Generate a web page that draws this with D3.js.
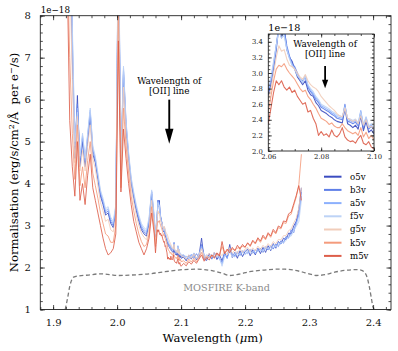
<!DOCTYPE html>
<html>
<head>
<meta charset="utf-8">
<script src="https://cdn.jsdelivr.net/npm/d3@7"></script>
<style>
	html, body { margin: 0; padding: 0; background: #fff; }
	svg { display: block; font-family: "DejaVu Serif", serif; }
</style>
</head>
<body>
<svg id="chart" width="398" height="351"></svg>
<script>
(function (d3) {
	"use strict";

	/***** Data (flux in units of 1e-18) *****/

	// wavelength grid in micron: coarse, fine around [OII], coarse
	var wavelength = [
		1.922,1.926,1.930,1.934,1.938,1.942,1.946,1.950,1.954,1.958,1.962,1.966,1.970,1.974,1.978,1.982,1.986,1.990,1.994,1.998,
		2.002,2.006,2.010,2.014,2.018,2.022,2.026,2.030,2.034,2.038,2.042,2.046,2.050,2.054,2.058,
		2.060,2.061,2.062,2.063,2.064,2.065,2.066,2.067,2.068,2.069,2.070,2.071,2.072,2.073,2.074,2.075,2.076,2.077,2.078,2.079,
		2.080,2.081,2.082,2.083,2.084,2.085,2.086,2.087,2.088,2.089,2.090,2.091,2.092,2.093,2.094,2.095,2.096,2.097,2.098,2.099,2.100,
		2.104,2.108,2.112,2.116,2.120,2.124,2.128,2.132,2.136,2.140,2.144,2.148,2.152,2.156,2.160,2.164,2.168,2.172,2.176,2.180,
		2.184,2.188,2.192,2.196,2.200,2.204,2.208,2.212,2.216,2.220,2.224,2.228,2.232,2.236,2.240,2.244,2.248,2.252,2.256,2.260,
		2.264,2.268,2.272,2.276,2.280,2.284,2.288
	];

	var o5v = [
		10.5,12.0,7.0,4.6,6.1,4.4,5.0,4.4,5.0,5.6,4.7,4.5,4.1,3.7,3.5,3.25,3.3,3.05,2.95,3.3,
		9.5,4.3,6.6,5.3,4.6,4.0,3.65,3.35,3.1,2.9,2.8,2.75,3.05,3.75,3.1,
		2.72,2.85,3.05,3.3,3.6,3.45,3.6,3.3,3.2,3.15,3.05,2.95,2.9,2.85,2.9,2.78,2.72,2.7,2.62,2.58,
		2.52,2.5,2.48,2.45,2.43,2.4,2.38,2.37,2.36,2.55,2.35,2.33,2.3,2.33,2.28,2.45,2.26,2.38,2.24,2.27,2.22,
		2.25,2.16,2.3,2.2,2.34,2.18,2.29,2.7,2.2,2.17,2.33,2.2,2.36,2.19,2.3,2.16,2.36,2.22,2.55,2.24,
		2.36,2.22,2.4,2.26,2.38,2.44,2.28,2.42,2.3,2.46,2.33,2.48,2.36,2.52,2.4,2.57,2.46,2.62,2.56,2.7,
		2.66,2.82,2.8,2.99,3.1,3.4,3.9
	];
	var b3v = [
		10.2,11.5,7.4,4.8,5.9,4.5,5.1,4.5,5.1,5.7,4.8,4.55,4.15,3.75,3.55,3.3,3.35,3.1,3.0,3.4,
		9.8,4.4,6.7,5.4,4.65,4.05,3.7,3.4,3.15,2.95,2.85,2.8,3.1,3.8,3.15,
		2.75,2.9,3.1,3.35,3.6,3.5,3.55,3.35,3.22,3.12,3.08,3.0,2.92,2.9,2.95,2.82,2.76,2.72,2.66,2.62,
		2.56,2.54,2.52,2.5,2.47,2.45,2.42,2.41,2.4,2.6,2.38,2.37,2.35,2.37,2.32,2.5,2.3,2.42,2.28,2.32,2.26,
		2.3,2.2,2.26,2.28,2.22,2.33,2.24,2.55,2.3,2.2,2.27,2.3,2.24,2.34,2.22,2.12,2.33,2.24,2.46,2.32,
		2.28,2.35,2.3,2.4,2.32,2.37,2.43,2.34,2.42,2.38,2.46,2.36,2.47,2.42,2.52,2.44,2.56,2.5,2.64,2.58,
		2.74,2.7,2.9,2.83,3.1,3.28,3.8
	];
	var a5v = [
		9.8,11.0,7.6,4.9,5.8,4.6,5.15,4.55,5.15,5.75,4.85,4.6,4.2,3.8,3.6,3.35,3.4,3.15,3.05,3.45,
		10.0,4.5,6.75,5.45,4.7,4.1,3.75,3.45,3.2,3.0,2.9,2.85,3.15,3.82,3.2,
		2.78,2.92,3.12,3.35,3.58,3.48,3.5,3.32,3.2,3.1,3.06,2.98,2.92,2.88,2.96,2.84,2.78,2.74,2.68,2.64,
		2.58,2.56,2.54,2.52,2.49,2.47,2.44,2.43,2.42,2.58,2.4,2.39,2.37,2.39,2.34,2.52,2.32,2.43,2.3,2.34,2.28,
		2.26,2.27,2.2,2.32,2.25,2.22,2.33,2.5,2.24,2.3,2.26,2.22,2.36,2.27,2.2,2.08,2.32,2.22,2.4,2.3,
		2.25,2.38,2.28,2.36,2.4,2.33,2.39,2.43,2.33,2.45,2.4,2.42,2.5,2.44,2.49,2.55,2.48,2.6,2.56,2.62,
		2.7,2.72,2.8,2.92,3.02,3.25,3.7
	];
	var f5v = [
		9.5,10.5,7.8,5.0,5.7,4.65,5.2,4.6,5.2,5.8,4.9,4.65,4.25,3.85,3.65,3.4,3.45,3.2,3.1,3.5,
		10.2,4.6,6.8,5.5,4.75,4.15,3.8,3.5,3.25,3.05,2.95,2.9,3.2,3.85,3.25,
		2.8,2.95,3.15,3.35,3.55,3.45,3.48,3.3,3.18,3.1,3.05,2.97,2.93,2.88,2.97,2.85,2.8,2.76,2.7,2.66,
		2.6,2.58,2.56,2.54,2.51,2.49,2.46,2.45,2.44,2.56,2.42,2.41,2.39,2.41,2.36,2.5,2.34,2.44,2.32,2.35,2.3,
		2.31,2.22,2.28,2.24,2.35,2.2,2.3,2.45,2.3,2.22,2.28,2.3,2.25,2.32,2.24,2.03,2.26,2.3,2.38,2.25,
		2.34,2.3,2.33,2.38,2.3,2.41,2.35,2.36,2.42,2.37,2.44,2.38,2.45,2.47,2.42,2.52,2.5,2.53,2.6,2.6,
		2.64,2.74,2.75,2.88,2.98,3.1,3.6
	];
	var g5v = [
		9.0,9.0,6.5,4.5,5.6,4.3,4.8,4.3,4.9,5.4,4.6,4.35,3.95,3.55,3.35,3.1,3.15,2.9,2.85,3.2,
		9.0,4.1,6.3,5.1,4.45,3.9,3.55,3.25,3.0,2.82,2.72,2.66,2.95,3.6,3.0,
		2.65,2.8,3.0,3.2,3.35,3.28,3.3,3.18,3.1,3.08,3.05,3.0,2.95,2.92,2.98,2.9,2.85,2.82,2.8,2.76,
		2.7,2.66,2.62,2.58,2.55,2.52,2.48,2.45,2.44,2.55,2.42,2.4,2.38,2.4,2.35,2.45,2.33,2.4,2.3,2.32,2.28,
		2.26,2.2,2.3,2.22,2.32,2.22,2.3,2.45,2.25,2.28,2.33,2.25,2.36,2.27,2.35,2.28,2.4,2.3,2.47,2.34,
		2.42,2.33,2.45,2.36,2.44,2.48,2.38,2.47,2.4,2.51,2.43,2.53,2.46,2.57,2.5,2.62,2.56,2.67,2.66,2.76,
		2.76,2.88,2.92,3.06,3.18,3.42,3.9
	];
	var k5v = [
		9.5,7.0,5.2,4.1,5.4,3.95,4.4,3.9,4.55,5.0,4.25,3.95,3.65,3.3,3.05,2.8,2.75,2.6,2.6,3.0,
		8.2,3.9,5.8,4.9,4.25,3.7,3.35,3.05,2.8,2.62,2.5,2.55,2.8,3.45,2.9,
		2.5,2.7,2.9,3.05,3.1,3.08,3.12,3.05,3.0,2.96,2.92,2.86,2.8,2.76,2.78,2.7,2.66,2.6,2.55,2.48,
		2.42,2.4,2.38,2.34,2.36,2.32,2.3,2.3,2.35,2.3,2.26,2.24,2.22,2.24,2.2,2.3,2.18,2.24,2.16,2.2,2.14,
		2.16,2.1,2.2,2.13,2.22,2.14,2.24,2.36,2.19,2.26,2.24,2.29,2.27,2.32,2.3,2.5,2.34,2.4,2.42,2.44,
		2.42,2.46,2.48,2.5,2.49,2.58,2.5,2.63,2.56,2.68,2.6,2.73,2.66,2.8,2.72,2.87,2.8,2.95,2.92,3.07,
		3.05,3.23,3.27,3.48,3.68,3.98,4.7
	];
	var m5v = [
		9.0,5.5,4.4,3.7,5.0,3.6,4.0,3.5,4.2,4.7,3.9,3.6,3.3,3.0,2.7,2.45,2.3,2.35,2.45,2.8,
		7.4,3.8,5.3,4.6,4.0,3.5,3.1,2.85,2.6,2.45,2.3,2.45,2.7,3.3,2.8,
		2.35,2.55,2.75,2.9,2.85,2.9,2.82,2.78,2.82,2.75,2.78,2.7,2.65,2.6,2.62,2.5,2.52,2.42,2.35,2.2,
		2.25,2.2,2.22,2.18,2.27,2.2,2.18,2.22,2.3,2.18,2.14,2.12,2.13,2.1,2.16,2.2,2.1,2.08,2.12,2.05,2.03,
		2.1,2.04,2.14,2.08,2.17,2.1,2.2,2.3,2.15,2.24,2.18,2.3,2.22,2.35,2.27,2.62,2.33,2.44,2.35,2.48,
		2.4,2.53,2.44,2.55,2.48,2.59,2.52,2.65,2.58,2.71,2.63,2.77,2.69,2.83,2.75,2.91,2.83,2.99,2.95,3.11,
		3.09,3.28,3.32,3.52,3.72,3.95,3.6
	];

	var seriesNames = ["o5v", "b3v", "a5v", "f5v", "g5v", "k5v", "m5v"];
	var seriesValues = [o5v, b3v, a5v, f5v, g5v, k5v, m5v];
	var seriesColors = ["#3b4cc0", "#5f7fe8", "#8cb0fd", "#bdd3f6", "#f1cdba", "#f49b7c", "#dd5e4a"];

	// MOSFIRE K-band transmission curve (scaled into the plot)
	var filterWave = [1.919,1.923,1.926,1.929,1.932,1.940,1.955,1.973,1.990,2.000,2.020,2.050,2.075,2.103,2.125,
		2.150,2.165,2.176,2.190,2.207,2.230,2.250,2.262,2.285,2.300,2.311,2.325,2.340,2.355,2.372,2.381,2.387,2.391,2.394,2.397,2.400,2.402];
	var filterResp = [1.0,1.3,1.55,1.7,1.77,1.8,1.82,1.85,1.83,1.81,1.82,1.85,1.9,1.95,1.96,
		1.92,1.86,1.81,1.84,1.9,1.94,1.96,1.96,1.91,1.85,1.81,1.83,1.89,1.93,1.95,1.94,1.88,1.75,1.55,1.3,1.05,1.0];

	// ticks
	var xTicksMain = [1.9, 2.0, 2.1, 2.2, 2.3, 2.4];
	var yTicksMain = [1, 2, 3, 4, 5, 6, 7, 8];
	var xTicksInset = [2.06, 2.08, 2.10];
	var yTicksInset = [2.0, 2.2, 2.4, 2.6, 2.8, 3.0, 3.2, 3.4];

	var oiiWave = 2.0815;


	/***** Layout *****/
	var svg = d3.select("#chart");

	var main = {left: 40.3, right: 391, top: 15.7, bottom: 309.5};
	var inset = {left: 268.3, right: 374, top: 34, bottom: 151};

	var xMain = d3.scaleLinear().domain([1.88, 2.428]).range([main.left, main.right]);
	var yMain = d3.scaleLinear().domain([1, 8]).range([main.bottom, main.top]);
	var xInset = d3.scaleLinear().domain([2.06, 2.10]).range([inset.left, inset.right]);
	var yInset = d3.scaleLinear().domain([2.0, 3.5]).range([inset.bottom, inset.top]);


	/***** Build the point lists *****/
	var series = seriesNames.map(function (name, i) {
		var vals = seriesValues[i];
		var pts = [];
		wavelength.forEach(function (w, j) {
			if (vals[j] !== undefined) pts.push([w, vals[j]]);
		});
		return {name: name, color: seriesColors[i], points: pts};
	});


	/***** Clip paths *****/
	var defs = svg.append("defs");
	defs.append("clipPath").attr("id", "clip-main").append("rect")
		.attr("x", main.left).attr("y", main.top)
		.attr("width", main.right - main.left).attr("height", main.bottom - main.top);
	defs.append("clipPath").attr("id", "clip-inset").append("rect")
		.attr("x", inset.left).attr("y", inset.top)
		.attr("width", inset.right - inset.left).attr("height", inset.bottom - inset.top);


	/***** Main panel *****/
	var gMain = svg.append("g").attr("clip-path", "url(#clip-main)");

	var lineMain = d3.line()
		.x(function (d) { return xMain(d[0]); })
		.y(function (d) { return yMain(d[1]); });

	gMain.selectAll("path.spec")
		.data(series)
		.enter().append("path")
		.attr("class", "spec")
		.attr("d", function (d) { return lineMain(d.points); })
		.attr("fill", "none")
		.attr("stroke", function (d) { return d.color; })
		.attr("stroke-width", 0.95)
		.attr("stroke-opacity", 0.9)
		.attr("stroke-linejoin", "round");

	// filter curve
	var filterLine = d3.line()
		.x(function (d) { return xMain(d[0]); })
		.y(function (d) { return yMain(d[1]); })
		.curve(d3.curveMonotoneX);

	gMain.append("path")
		.attr("d", filterLine(d3.zip(filterWave, filterResp)))
		.attr("fill", "none")
		.attr("stroke", "#7a7a7a")
		.attr("stroke-width", 1.3)
		.attr("stroke-dasharray", "4,2.6");

	svg.append("text")
		.attr("x", xMain(2.171))
		.attr("y", yMain(1.45))
		.attr("text-anchor", "middle")
		.attr("font-size", 9.7)
		.attr("fill", "#8a8a8a")
		.text("MOSFIRE K-band");

	drawFrame(svg, xMain, yMain, main, {
		xMajor: xTicksMain, xMinorStep: 0.02,
		yMajor: yTicksMain, yMinorStep: 0.2,
		major: 4.5, minor: 2.5, fontSize: 10,
		xPad: 9.5, yPad: 9.5,
		xFmt: d3.format(".1f"), yFmt: d3.format("d")
	});

	svg.append("text")
		.attr("x", main.left + 0.4).attr("y", 13.3)
		.attr("font-size", 8.8)
		.text("1e\u221218");

	// axis labels
	var xLabel = svg.append("text")
		.attr("x", (main.left + main.right) / 2 - 3)
		.attr("y", 341.5)
		.attr("text-anchor", "middle")
		.attr("font-size", 11.6);
	xLabel.append("tspan").text("Wavelength (");
	xLabel.append("tspan").attr("font-style", "italic").text("\u03bc");
	xLabel.append("tspan").text("m)");

	var yLabel = svg.append("text")
		.attr("transform", "translate(18,162.5) rotate(-90)")
		.attr("text-anchor", "middle")
		.attr("font-size", 11.6);
	yLabel.append("tspan").text("Normalisation (erg/s/cm");
	yLabel.append("tspan").attr("font-size", "0.7em").attr("dy", "-0.45em").text("2");
	yLabel.append("tspan").attr("dy", "0.315em").text("/\u00c5\u00a0 per e");
	yLabel.append("tspan").attr("font-size", "0.7em").attr("dy", "-0.45em").text("\u2212");
	yLabel.append("tspan").attr("dy", "0.315em").text("/s)");

	// [OII] annotation on the main panel
	drawArrow(svg, xMain(oiiWave), yMain(6.0), yMain(4.95), 15, 8.4, 1.9);
	svg.append("text")
		.attr("x", xMain(oiiWave)).attr("y", yMain(6.0) - 15.8)
		.attr("text-anchor", "middle").attr("font-size", 8.9)
		.text("Wavelength of");
	svg.append("text")
		.attr("x", xMain(oiiWave)).attr("y", yMain(6.0) - 5.6)
		.attr("text-anchor", "middle").attr("font-size", 8.9)
		.text("[OII] line");


	/***** Legend *****/
	var legend = svg.append("g").attr("transform", "translate(324,176.7)");
	var rows = legend.selectAll("g")
		.data(series)
		.enter().append("g")
		.attr("transform", function (d, i) { return "translate(0," + (i * 13.2) + ")"; });
	rows.append("line")
		.attr("x1", 0).attr("x2", 17.5)
		.attr("stroke", function (d) { return d.color; })
		.attr("stroke-width", 2);
	rows.append("text")
		.attr("x", 26).attr("dy", "0.33em")
		.attr("font-size", 8.6)
		.text(function (d) { return d.name; });


	/***** Inset *****/
	svg.append("rect")
		.attr("x", inset.left).attr("y", inset.top)
		.attr("width", inset.right - inset.left).attr("height", inset.bottom - inset.top)
		.attr("fill", "#fff");

	var gInset = svg.append("g").attr("clip-path", "url(#clip-inset)");

	var lineInset = d3.line()
		.x(function (d) { return xInset(d[0]); })
		.y(function (d) { return yInset(d[1]); });

	gInset.selectAll("path.spec")
		.data(series)
		.enter().append("path")
		.attr("class", "spec")
		.attr("d", function (d) {
			return lineInset(d.points.filter(function (p) { return p[0] >= 2.05 && p[0] <= 2.11; }));
		})
		.attr("fill", "none")
		.attr("stroke", function (d) { return d.color; })
		.attr("stroke-width", 1.1)
		.attr("stroke-opacity", 0.9)
		.attr("stroke-linejoin", "round");

	drawFrame(svg, xInset, yInset, inset, {
		xMajor: xTicksInset, xMinorStep: 0.005,
		yMajor: yTicksInset, yMinorStep: 0.05,
		major: 3.5, minor: 2, fontSize: 6.8,
		xPad: 3.5, yPad: 5.5,
		xFmt: d3.format(".2f"), yFmt: d3.format(".1f")
	});

	svg.append("text")
		.attr("x", inset.left).attr("y", 31)
		.attr("font-size", 9.6)
		.text("1e\u221218");

	drawArrow(svg, xInset(oiiWave), 66, 88.3, 8.5, 6.2, 1.8);
	svg.append("text")
		.attr("x", xInset(oiiWave)).attr("y", 46.5)
		.attr("text-anchor", "middle").attr("font-size", 8.8)
		.text("Wavelength of");
	svg.append("text")
		.attr("x", xInset(oiiWave)).attr("y", 56.5)
		.attr("text-anchor", "middle").attr("font-size", 8.8)
		.text("[OII] line");


/**
 * Draws the box, inward major and minor ticks on all four sides and the labels.
 */
function drawFrame(root, x, y, box, o) {
	var g = root.append("g");
	var w = box.right - box.left;
	var h = box.bottom - box.top;

	var xd = x.domain(), yd = y.domain();
	var xMinor = d3.range(Math.ceil(xd[0] / o.xMinorStep), Math.floor(xd[1] / o.xMinorStep) + 1)
		.map(function (k) { return +(k * o.xMinorStep).toFixed(4); });
	var yMinor = d3.range(Math.ceil(yd[0] / o.yMinorStep), Math.floor(yd[1] / o.yMinorStep) + 1)
		.map(function (k) { return +(k * o.yMinorStep).toFixed(4); });

	function side(axis, tx, ty, values, size, fmt, pad) {
		var a = g.append("g")
			.attr("transform", "translate(" + tx + "," + ty + ")")
			.call(axis.tickValues(values).tickSizeInner(-size).tickSizeOuter(0)
				.tickPadding(pad || 0).tickFormat(fmt || ""));
		a.select(".domain").remove();
		a.selectAll("line").attr("stroke", "#222").attr("stroke-width", 0.8);
		a.selectAll("text").attr("font-size", o.fontSize).attr("font-family", "DejaVu Serif, serif").attr("fill", "#111");
		return a;
	}

	// bottom / top
	side(d3.axisBottom(x), 0, box.bottom, xMinor, o.minor);
	side(d3.axisBottom(x), 0, box.bottom, o.xMajor, o.major, o.xFmt, o.xPad);
	side(d3.axisTop(x), 0, box.top, xMinor, o.minor);
	side(d3.axisTop(x), 0, box.top, o.xMajor, o.major);
	// left / right
	side(d3.axisLeft(y), box.left, 0, yMinor, o.minor);
	side(d3.axisLeft(y), box.left, 0, o.yMajor, o.major, o.yFmt, o.yPad);
	side(d3.axisRight(y), box.right, 0, yMinor, o.minor);
	side(d3.axisRight(y), box.right, 0, o.yMajor, o.major);

	g.append("rect")
		.attr("x", box.left).attr("y", box.top)
		.attr("width", w).attr("height", h)
		.attr("fill", "none")
		.attr("stroke", "#222")
		.attr("stroke-width", 0.9);
}

/**
 * Straight down-pointing arrow with a filled head.
 */
function drawArrow(root, cx, yTop, yTip, headLen, headWidth, shaft) {
	root.append("line")
		.attr("x1", cx).attr("x2", cx)
		.attr("y1", yTop).attr("y2", yTip - headLen + 1)
		.attr("stroke", "#000")
		.attr("stroke-width", shaft);
	root.append("path")
		.attr("d", "M" + (cx - headWidth / 2) + "," + (yTip - headLen) +
			"L" + (cx + headWidth / 2) + "," + (yTip - headLen) +
			"L" + cx + "," + yTip + "Z")
		.attr("fill", "#000");
}

})(d3);
</script>
</body>
</html>
